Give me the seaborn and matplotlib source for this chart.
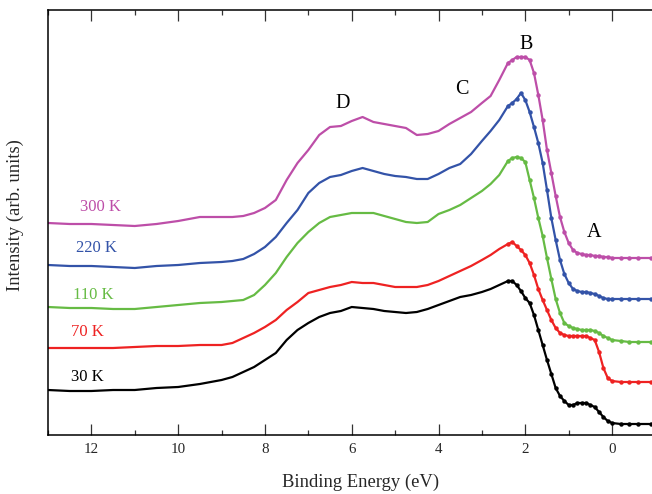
import numpy as np
import pandas as pd
import matplotlib
matplotlib.use("Agg")
import matplotlib.pyplot as plt
from matplotlib.ticker import MultipleLocator
import seaborn as sns

# Binding energy grid (eV), shared by all spectra
energy = [13, 12.5, 12, 11.5, 11, 10.5, 10, 9.5, 9, 8.75,
          8.5, 8.25, 8, 7.75, 7.5, 7.25, 7, 6.75, 6.5, 6.25, 6, 5.75, 5.5,
          5.25, 5, 4.75, 4.5, 4.25, 4, 3.75, 3.5, 3.25, 3,
          2.8, 2.6, 2.4,
          2.3, 2.2, 2.1, 2.0, 1.9, 1.8, 1.7, 1.6, 1.5, 1.4, 1.3, 1.2,
          1.1, 1.0, 0.9, 0.8, 0.7, 0.6, 0.5, 0.4, 0.3, 0.2, 0.1, 0.0,
          -0.2, -0.4, -0.6, -0.9]

# Photoemission intensity (arb. units, vertically offset per temperature)
i_300K = [212, 211, 211, 210, 209, 211, 214, 218, 218, 218,
          219, 222, 227, 235, 255, 272, 285, 300, 308, 309, 314, 318, 313,
          311, 309, 307, 300, 301, 304, 311, 317, 323, 332,
          339, 355, 372,
          375, 378, 378, 378, 375, 362, 340, 315, 285, 262, 239, 218,
          203, 192, 185, 182, 181, 180, 180, 179, 179, 178, 178, 177,
          177, 177, 177, 177]
i_220K = [170, 169, 169, 168, 167, 169, 170, 172, 173, 174,
          176, 181, 188, 198, 212, 225, 242, 252, 258, 260, 264, 267, 264,
          261, 259, 258, 256, 256, 261, 267, 271, 281, 294,
          304, 315, 329,
          332, 336, 342, 335, 323, 308, 292, 272, 245, 217, 195, 175,
          161, 152, 146, 144, 143, 143, 142, 141, 139, 137, 136, 136,
          136, 136, 136, 136]
i_110K = [128, 127, 127, 126, 126, 128, 130, 132, 133, 134,
          135, 140, 150, 162, 178, 192, 203, 212, 218, 220, 222, 222, 222,
          219, 216, 213, 212, 213, 221, 225, 230, 237, 244,
          251, 260, 274,
          277, 278, 277, 273, 255, 237, 217, 199, 177, 156, 136, 122,
          112, 109, 107, 106, 105, 105, 105, 104, 102, 99, 97, 95,
          94, 93, 93, 93]
i_70K = [87, 87, 87, 87, 88, 89, 89, 90, 90, 92,
         97, 102, 108, 115, 125, 133, 142, 145, 148, 150, 153, 152, 152,
         150, 148, 148, 148, 150, 154, 159, 164, 169, 175,
         180, 186, 191,
         193, 189, 185, 180, 172, 160, 146, 135, 125, 115, 107, 102,
         100, 99, 99, 99, 99, 99, 97, 95, 83, 67, 57, 54,
         53, 53, 53, 53]
i_30K = [45, 44, 44, 45, 45, 47, 48, 51, 55, 58,
         63, 68, 75, 82, 95, 105, 112, 118, 122, 124, 128, 127, 126,
         124, 123, 122, 123, 126, 130, 134, 138, 140, 143,
         146, 150, 154,
         154, 150, 144, 137, 132, 120, 105, 90, 75, 61, 47, 39,
         34, 30, 30, 32, 32, 32, 30, 28, 23, 18, 14, 12,
         11, 11, 11, 11]

temperatures = ["300 K", "220 K", "110 K", "70 K", "30 K"]
colors = ["#BD4EA8", "#3353A8", "#66BB44", "#EE2222", "#000000"]
label_pos = [(11.80, 228), (11.89, 187), (11.96, 140), (12.10, 103), (12.10, 58)]

features = ["D", "C", "B", "A"]
feature_pos = [(6.20, 332), (3.46, 346), (1.98, 391), (0.41, 203)]

spectra = [i_300K, i_220K, i_110K, i_70K, i_30K]
df = pd.concat(
    [pd.DataFrame({"energy": energy, "intensity": vals, "T": t})
     for t, vals in zip(temperatures, spectra)],
    ignore_index=True,
)

# dots only where the spectra are sampled closely (valence-band edge region)
marked = [k for k, e in enumerate(energy) if e <= 2.45]

sns.set_style("white")
plt.rcParams["font.family"] = ["Liberation Serif", "DejaVu Serif"]

fig = plt.figure(figsize=(6.52, 4.94), dpi=100)
ax = fig.add_axes([48 / 652, 59 / 494, 604 / 652, 425 / 494])

sns.lineplot(data=df, x="energy", y="intensity", hue="T",
             palette=dict(zip(temperatures, colors)), hue_order=temperatures,
             estimator=None, sort=False, marker="o", markersize=3.2,
             markeredgewidth=0, markevery=marked, linewidth=1.6,
             legend=False, ax=ax)

for t, c, (x, y) in zip(temperatures, colors, label_pos):
    ax.text(x, y, t, color=c, fontsize=12, ha="center", va="center")
for f, (x, y) in zip(features, feature_pos):
    ax.text(x, y, f, color="black", fontsize=14.5, ha="center", va="center")

ax.set_xlim(13, -0.92)
ax.set_ylim(0, 425)
ax.set_yticks([])
ax.xaxis.set_major_locator(MultipleLocator(2))
ax.xaxis.set_minor_locator(MultipleLocator(1))
ax.tick_params(axis="x", which="both", direction="in", top=True, bottom=True,
               color="#333333", width=0.9)
ax.tick_params(axis="x", which="major", length=8, labelsize=10.8, pad=6)
ax.tick_params(axis="x", which="minor", length=3.8)

for side in ["left", "bottom", "top"]:
    ax.spines[side].set_linewidth(1.1)
    ax.spines[side].set_color("black")
ax.spines["right"].set_visible(False)

ax.set_xlabel("Binding Energy (eV)", fontsize=13.4)
ax.set_ylabel("Intensity (arb. units)", fontsize=13.4)
ax.xaxis.set_label_coords(0.517, -0.090)
ax.yaxis.set_label_coords(-0.040, 0.518)

fig.savefig("out.png", dpi=100)
